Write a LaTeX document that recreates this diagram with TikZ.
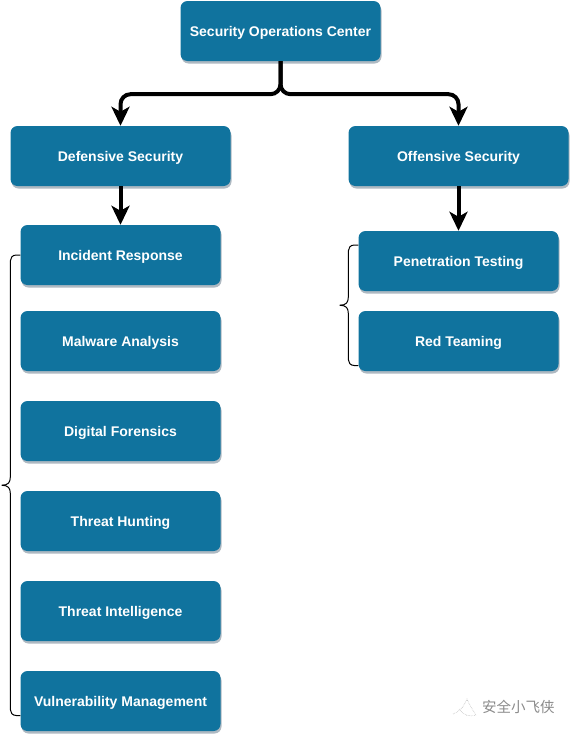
\documentclass[tikz,border=0pt]{standalone}
\usepackage{fontspec}
\setmainfont{Liberation Sans}
\newfontfamily\cjkfont{Noto Sans CJK SC}
\usetikzlibrary{arrows.meta,shadows,calc}
\definecolor{boxblue}{HTML}{10739E}
\definecolor{boxshadow}{HTML}{AEB9C2}
\definecolor{wmgray}{HTML}{8A8A8A}
\tikzset{
  box/.style={draw=none,fill=boxblue,rounded corners=7pt,minimum height=60pt,inner sep=0pt,
    text=white,font=\bfseries\fontsize{14}{16}\selectfont,text height=10pt,text depth=0pt,
    general shadow={fill=boxshadow,shadow xshift=1pt,shadow yshift=-2.5pt}},
  wide/.style={box,minimum width=220pt},
  narrow/.style={box,minimum width=200pt},
  conn/.style={draw=black,line width=4pt,-{Stealth[length=19pt,width=18pt,inset=5pt]}},
  fork/.style={conn,rounded corners=10pt},
  tick/.style={draw=black,line width=1pt},
  wm/.style={text=wmgray,font=\cjkfont\fontsize{14.5}{16}\selectfont,inner sep=0pt},
  wmicon/.style={draw=wmgray!60,line width=0.6pt,densely dotted}
}
\begin{document}
\begin{tikzpicture}[x=1pt,y=-1pt]
\useasboundingbox (0,0) rectangle (571,734);
\node[narrow] (soc) at (280.5,31) {Security Operations Center};
\node[wide] (def) at (120.5,156) {Defensive Security};
\node[wide] (off) at (458.5,156) {Offensive Security};
\node[narrow] (ir) at (120.5,255) {Incident Response};
\node[narrow] (ma) at (120.5,341) {Malware Analysis};
\node[narrow] (df) at (120.5,431) {Digital Forensics};
\node[narrow] (th) at (120.5,521) {Threat Hunting};
\node[narrow] (ti) at (120.5,611) {Threat Intelligence};
\node[narrow] (vm) at (120.5,701) {Vulnerability Management};
\node[narrow] (pt) at (458.5,261) {Penetration Testing};
\node[narrow] (rt) at (458.5,341) {Red Teaming};
% connectors
\draw[fork] (soc.south) -- ++(0,33) -| (def.north);
\draw[fork] (soc.south) -- ++(0,33) -| (off.north);
\draw[conn] (def.south) -- (ir.north);
\draw[conn] (off.south) -- (pt.north);
% left brace
\coordinate (ltop) at (ir.west);
\coordinate (lbot) at ($(vm.west)+(0,14.5)$);
\coordinate (lmid) at ($(ltop)!0.5!(lbot)$);
\coordinate (ltip) at ($(lmid)+(-18.5,0)$);
\draw[tick] (ltop) -- ++(-4,0) .. controls +(-4,0) and +(0,-3) .. ++(-6,6) -- ($(lmid)+(-10,-8)$)
  .. controls ($(lmid)+(-10,-3)$) and ($(lmid)+(-12,0)$) .. (ltip);
\draw[tick] (lbot) -- ++(-4,0) .. controls +(-4,0) and +(0,3) .. ++(-6,-6) -- ($(lmid)+(-10,8)$)
  .. controls ($(lmid)+(-10,3)$) and ($(lmid)+(-12,0)$) .. (ltip);
% right brace
\coordinate (rtop) at ($(pt.west)+(0,-16)$);
\coordinate (rbot) at ($(rt.west)+(0,24.5)$);
\coordinate (rmid) at ($(rtop)!0.5!(rbot)$);
\coordinate (rtip) at ($(rmid)+(-18.5,0)$);
\draw[tick] (rtop) -- ++(-4,0) .. controls +(-4,0) and +(0,-3) .. ++(-6,6) -- ($(rmid)+(-10,-8)$)
  .. controls ($(rmid)+(-10,-3)$) and ($(rmid)+(-12,0)$) .. (rtip);
\draw[tick] (rbot) -- ++(-4,0) .. controls +(-4,0) and +(0,3) .. ++(-6,-6) -- ($(rmid)+(-10,8)$)
  .. controls ($(rmid)+(-10,3)$) and ($(rmid)+(-12,0)$) .. (rtip);
% watermark
\node[wm,anchor=west] (mark) at (482,707) {安全小飞侠};
\draw[wmicon] (453,714) .. controls (459,712) and (463,708) .. (467,699)
  .. controls (469,704) and (472,709) .. (476,715);
\draw[wmicon] (459,709) .. controls (464,716) and (470,717) .. (476,715);
\end{tikzpicture}
\end{document}
